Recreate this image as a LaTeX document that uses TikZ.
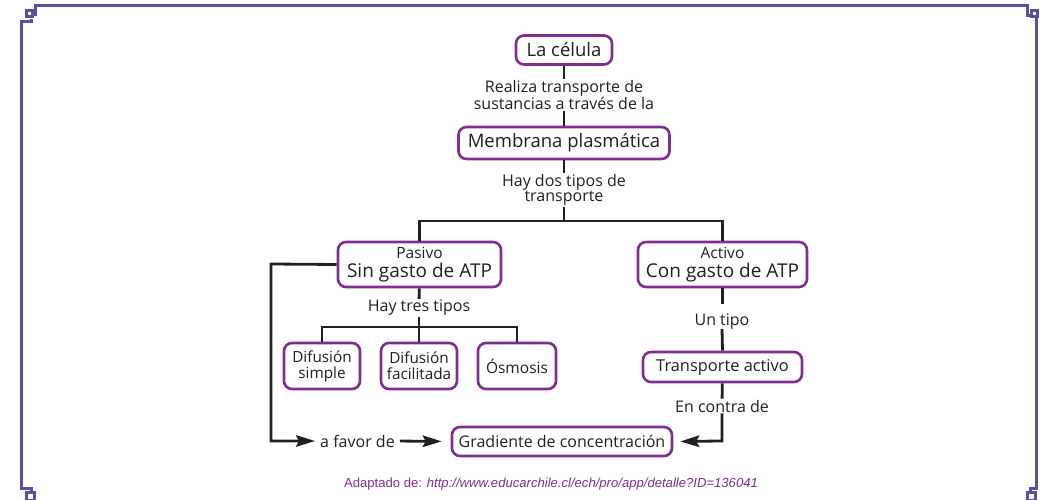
\documentclass[tikz,border=0pt]{standalone}
\usepackage{fontspec}
\setmainfont{Open Sans}
\newfontfamily\footfont{Liberation Sans}
\usetikzlibrary{arrows.meta}
\definecolor{framec}{HTML}{5B4FA0}
\definecolor{boxc}{HTML}{7D2E8F}
\definecolor{inkc}{HTML}{231F20}
\tikzset{
  x=1pt,y=-1pt,
  box/.style={draw=boxc,line width=2.6pt,rounded corners=8pt,fill=white,inner sep=0pt,align=center,text=inkc,font=\fontsize{18.5}{20}\selectfont},
  lbl/.style={inner sep=1pt,align=center,text=inkc,font=\fontsize{16}{15.5}\selectfont},
  conn/.style={draw=inkc,line width=2.8pt},
  arr/.style={conn,-{Stealth[length=19pt,width=11.5pt,inset=3pt]}},
  frame/.style={draw=framec,line width=3pt}
}
\begin{document}
\begin{tikzpicture}
\useasboundingbox (0,0) rectangle (1041,500);
% frame
\draw[frame] (31,19) -- (31,22) -- (21,22) -- (21,488) -- (31,488) -- (31,492);
\draw[frame] (35,16) -- (35,6) -- (1027,6) -- (1027,16) -- (1031,16);
\draw[frame] (26,11) rectangle (32,17);
\draw[frame] (1031,11) rectangle (1037,17);
\draw[frame] (26,492) rectangle (34,500);
\draw[frame] (1027,492) rectangle (1035,500);
\draw[frame] (1036,17) -- (1036,488) -- (1030,488) -- (1030,492);
% nodes
\node[box,minimum width=96,minimum height=29] (cel) at (564,50) {La célula};
\node[lbl] (l1) at (564,95) {Realiza transporte de\\sustancias a través de la};
\node[box,minimum width=211,minimum height=32] (mem) at (564,143) {Membrana plasmática};
\node[lbl] (l2) at (564,190) {Hay dos tipos de\\transporte};
\coordinate (split) at (564,221);
\node[box,minimum width=163,minimum height=45] (pas) at (419.5,264.5) {{\fontsize{15.5}{15}\selectfont Pasivo}\\[-1pt]{\fontsize{19}{20}\selectfont Sin gasto de ATP}};
\node[box,minimum width=169,minimum height=45] (act) at (722.5,264.5) {{\fontsize{15.5}{15}\selectfont Activo}\\[-1pt]{\fontsize{19}{20}\selectfont Con gasto de ATP}};
\node[lbl] (l3) at (419,308) {Hay tres tipos};
\coordinate (split2) at (419,327);
\node[box,minimum width=76,minimum height=46,font=\fontsize{15.3}{16}\selectfont] (ds) at (322,366) {Difusión\\simple};
\node[box,minimum width=76,minimum height=46,font=\fontsize{15.3}{16}\selectfont] (df) at (419,366) {Difusión\\facilitada};
\node[box,minimum width=78,minimum height=46,font=\fontsize{15.5}{16}\selectfont] (os) at (517,366) {Ósmosis};
\node[lbl] (l4) at (722,322) {Un tipo};
\node[box,minimum width=159,minimum height=30,font=\fontsize{16.4}{16}\selectfont] (ta) at (722.5,367) {Transporte activo};
\node[lbl] (l5) at (722,406) {En contra de};
\node[box,minimum width=220,minimum height=29,font=\fontsize{16}{16}\selectfont] (gc) at (562,441.5) {Gradiente de concentración};
\node[lbl] (l6) at (357.5,441) {a favor de};
\coordinate (ll) at (271,264);
\coordinate (rr) at (722,441);
\node[text=boxc,font=\footfont\fontsize{13.1}{14}\selectfont,inner sep=0pt] (foot) at (551,484) {Adaptado de: \textit{http://www.educarchile.cl/ech/pro/app/detalle?ID=136041}};
% connectors
\draw[conn] (cel) -- (l1);
\draw[conn] (l1) -- (mem);
\draw[conn] (mem) -- (l2);
\draw[conn] (l2.south) -- (split);
\draw[conn] (pas.north) -- (pas.north |- split) -- (act.north |- split) -- (act.north);
\draw[conn] (pas) -- (l3);
\draw[conn] (l3.south) -- (split2);
\draw[conn] (ds.north) -- (ds.north |- split2) -- (os.north |- split2) -- (os.north);
\draw[conn] (split2) -- (df.north);
\draw[conn] (act.south) -- ++(0,16);
\draw[conn] ([yshift=2pt]l4.south) -- (ta.north);
\draw[conn] (ta) -- (l5);
\draw[arr,shorten >=7pt] (l5.south) -- (rr) -- (gc.east);
\draw[arr,shorten >=4pt] (pas.west) -- (ll) -- (ll |- l6) -- (l6.west);
\draw[arr,shorten <=4pt,shorten >=9pt] (l6.east) -- (gc.west);
\end{tikzpicture}
\end{document}
